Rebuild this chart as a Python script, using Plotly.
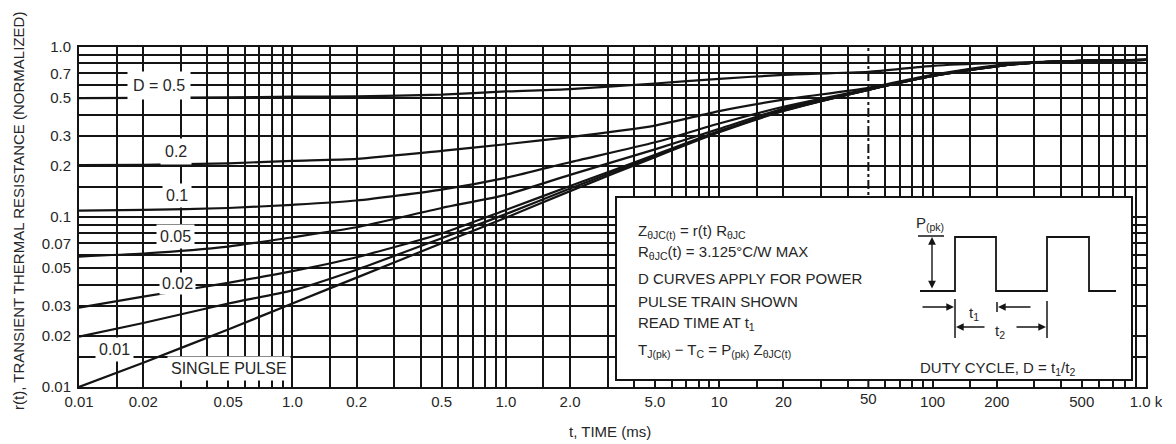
import plotly.graph_objects as go

# ---- data: normalized transient thermal resistance r(t) vs pulse time t (ms)
t_ms = [0.01, 0.02, 0.05, 0.1, 0.2, 0.5, 1, 2, 5, 10, 20, 50, 100, 200, 300, 500, 1000]

r_d050 = [0.500, 0.502, 0.505, 0.510, 0.512, 0.525, 0.548, 0.565, 0.610, 0.650, 0.685, 0.715, 0.775, 0.805, 0.815, 0.830, 0.840]
r_d020 = [0.202, 0.203, 0.207, 0.214, 0.220, 0.245, 0.268, 0.295, 0.345, 0.420, 0.490, 0.575, 0.685, 0.780, 0.812, 0.830, 0.840]
r_d010 = [0.109, 0.110, 0.113, 0.118, 0.125, 0.145, 0.170, 0.210, 0.275, 0.355, 0.445, 0.565, 0.680, 0.775, 0.810, 0.830, 0.840]
r_d005 = [0.0585, 0.061, 0.067, 0.076, 0.087, 0.113, 0.135, 0.177, 0.250, 0.330, 0.435, 0.562, 0.677, 0.772, 0.810, 0.830, 0.840]
r_d002 = [0.0293, 0.034, 0.041, 0.048, 0.058, 0.080, 0.110, 0.152, 0.232, 0.320, 0.425, 0.560, 0.675, 0.770, 0.810, 0.830, 0.840]
r_d001 = [0.0198, 0.0238, 0.031, 0.037, 0.049, 0.075, 0.104, 0.147, 0.228, 0.318, 0.422, 0.560, 0.675, 0.770, 0.810, 0.830, 0.840]
r_single = [0.0100, 0.0139, 0.0218, 0.031, 0.044, 0.070, 0.099, 0.142, 0.225, 0.315, 0.420, 0.560, 0.675, 0.770, 0.810, 0.830, 0.840]

curves = [r_d050, r_d020, r_d010, r_d005, r_d002, r_d001, r_single]
curve_names = ["D = 0.5", "0.2", "0.1", "0.05", "0.02", "0.01", "SINGLE PULSE"]

# ---- axis grid and tick labels
grid_steps = [1, 1.5, 2, 3, 4, 5, 6, 7, 8, 9]
x_decades = [0.01, 0.1, 1, 10, 100]
y_decades = [0.01, 0.1]
x_labels = {0.01: "0.01", 0.02: "0.02", 0.05: "0.05", 0.1: "1.0", 0.2: "0.2", 0.5: "0.5",
            1: "1.0", 2: "2.0", 5: "5.0", 10: "10", 20: "20", 100: "100",
            200: "200", 500: "500", 1000: "1.0 k"}
y_labels = {0.01: "0.01", 0.02: "0.02", 0.03: "0.03", 0.05: "0.05", 0.07: "0.07",
            0.1: "0.1", 0.2: "0.2", 0.3: "0.3", 0.5: "0.5", 0.7: "0.7", 1.0: "1.0"}
dashed_grid_x = 50  # drawn dash-dot, labelled separately

x_grid = [round(d * s, 6) for d in x_decades for s in grid_steps] + [1000]
x_grid = [v for v in x_grid if v != dashed_grid_x]
y_grid = [round(d * s, 6) for d in y_decades for s in grid_steps] + [1.0]

# ---- page geometry
W, H = 1176, 444
ML, MR, MT, MB = 79, 30, 47, 57
PW, PH = W - ML - MR, H - MT - MB
FONT = "Liberation Sans, Arial, Helvetica, sans-serif"
INK = "#141414"
TXT = "#262626"


def fx(x):
    return (x - ML) / PW


def fy(y):
    return (H - MB - y) / PH


fig = go.Figure()
for vals, name in zip(curves, curve_names):
    fig.add_trace(go.Scatter(x=t_ms, y=vals, mode="lines", name=name,
                             line=dict(color=INK, width=2.2, shape="spline", smoothing=0.6),
                             hoverinfo="skip", showlegend=False))

axis_common = dict(type="log", showgrid=True, gridcolor=INK, gridwidth=2,
                   showline=True, linecolor=INK, linewidth=2, mirror=True,
                   ticks="", tickmode="array", zeroline=False,
                   tickfont=dict(family=FONT, size=15, color=TXT))

fig.update_xaxes(range=[-2, 3], tickvals=x_grid,
                 ticktext=[x_labels.get(v, "") for v in x_grid],
                 ticklabelstandoff=0, **axis_common)
fig.update_yaxes(range=[-2, 0], tickvals=y_grid,
                 ticktext=[y_labels.get(v, "") for v in y_grid],
                 ticklabelstandoff=3, **axis_common)

shapes = []
annotations = []


def note(x, y, text, size=15, xanchor="center", yanchor="middle", **kw):
    annotations.append(dict(x=fx(x), y=fy(y), xref="paper", yref="paper", text=text,
                            xanchor=xanchor, yanchor=yanchor, showarrow=False,
                            font=dict(family=FONT, size=size, color=TXT), **kw))


# dash-dot grid line at 50 ms with its tick label
shapes.append(dict(type="line", xref="x", yref="paper", x0=dashed_grid_x, x1=dashed_grid_x,
                   y0=0, y1=1, layer="below", line=dict(color=INK, width=2, dash="dashdot")))
annotations.append(dict(x=1.69897, xref="x", yref="paper", y=0, yanchor="top", xanchor="center",
                        yshift=-1, text="50", showarrow=False,
                        font=dict(family=FONT, size=15, color=TXT)))

# curve labels (white backing breaks the grid behind them)
label_pos = [(159, 85, 5), (176, 151, 4), (177, 195, 3), (175, 236, 3),
             (177, 283, 2), (114, 349, 3), (229, 368, 3)]
for name, (lx, ly, pad) in zip(curve_names, label_pos):
    note(lx, ly, name, size=16, bgcolor="white", borderpad=pad)

# axis titles
note(19, 211, "r(t), TRANSIENT THERMAL RESISTANCE (NORMALIZED)", textangle=-90)
note(610, 431, "t, TIME (ms)")

# information box
shapes.append(dict(type="rect", xref="paper", yref="paper", x0=fx(616), x1=fx(1132),
                   y0=fy(380), y1=fy(197), fillcolor="white", layer="above",
                   line=dict(color=INK, width=2)))

box_lines = [
    (231, "Z<sub>θJC(t)</sub> = r(t) R<sub>θJC</sub>"),
    (252, "R<sub>θJC</sub>(t) = 3.125°C/W MAX"),
    (278, "D CURVES APPLY FOR POWER"),
    (301, "PULSE TRAIN SHOWN"),
    (323, "READ TIME AT t<sub>1</sub>"),
    (350, "T<sub>J(pk)</sub> − T<sub>C</sub> = P<sub>(pk)</sub> Z<sub>θJC(t)</sub>"),
]
for ly, txt in box_lines:
    note(636, ly, txt, xanchor="left")

# pulse train sketch
wave = [(920, 291), (955, 291), (955, 237), (996, 237), (996, 291),
        (1047, 291), (1047, 237), (1089, 237), (1089, 291), (1116, 291)]
path = "M " + " L ".join(f"{fx(a):.5f},{fy(b):.5f}" for a, b in wave)
shapes.append(dict(type="path", xref="paper", yref="paper", path=path, layer="above",
                   line=dict(color=INK, width=1.8)))


def seg(x0, y0, x1, y1, w=1.5):
    shapes.append(dict(type="line", xref="paper", yref="paper", x0=fx(x0), y0=fy(y0),
                       x1=fx(x1), y1=fy(y1), layer="above", line=dict(color=INK, width=w)))


seg(918, 236, 944, 236)          # peak reference tick
seg(955, 299, 955, 338)          # t1 / t2 start extension
seg(997, 302, 997, 312)          # t1 end tick
seg(1047, 301, 1047, 338)        # t2 end extension


def arrow(hx, hy, tx, ty, both=False):
    annotations.append(dict(x=fx(hx), y=fy(hy), xref="paper", yref="paper",
                            ax=tx - hx, ay=ty - hy, axref="pixel", ayref="pixel",
                            text="", showarrow=True, arrowhead=2, arrowsize=1.1,
                            arrowwidth=1.4, arrowcolor=INK,
                            arrowside="end+start" if both else "end",
                            startarrowhead=2, startarrowsize=1.1))


arrow(932, 237, 932, 290, both=True)   # P(pk) height
arrow(954, 307, 921, 307)              # t1 from the left
arrow(998, 307, 1032, 307)             # t1 from the right
arrow(956, 327, 986, 327)              # t2 left half
arrow(1046, 327, 1015, 327)            # t2 right half

note(914, 224, "P<sub>(pk)</sub>", xanchor="left")
note(967, 313, "t<sub>1</sub>", xanchor="left")
note(993, 331, "t<sub>2</sub>", xanchor="left")
note(918, 368, "DUTY CYCLE, D = t<sub>1</sub>/t<sub>2</sub>", xanchor="left")

fig.update_layout(width=W, height=H, margin=dict(l=ML, r=MR, t=MT, b=MB, autoexpand=False),
                  paper_bgcolor="white", plot_bgcolor="white",
                  shapes=shapes, annotations=annotations, showlegend=False)

fig.write_html("out.html")
